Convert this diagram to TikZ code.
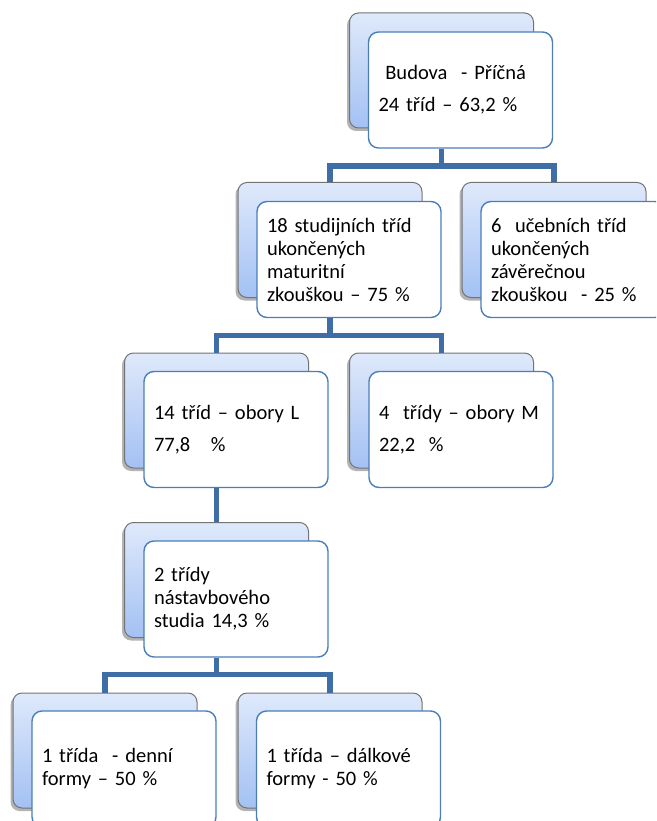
\documentclass[tikz,border=0pt]{standalone}
\usepackage{fontspec}
\setmainfont{Carlito}
\usetikzlibrary{shadows}
\definecolor{backtop}{HTML}{DFE9FB}
\definecolor{backbot}{HTML}{A3C1F3}
\definecolor{frameblue}{HTML}{4A7EBB}
\definecolor{linkblue}{HTML}{3F6DA6}
\begin{document}
\begin{tikzpicture}[x=1pt,y=-1pt]
	\tikzstyle{back} = [rounded corners=9pt,draw=black!55,line width=1pt,top color=backtop,bottom color=backbot,minimum width=184pt,minimum height=115pt,drop shadow={shadow xshift=-2.5pt,shadow yshift=-3pt,opacity=0.6}]
	\tikzstyle{front} = [rounded corners=10pt,draw=frameblue,line width=1.4pt,fill=white,minimum width=184pt,minimum height=116pt,text width=164pt,inner xsep=10pt,align=left,font=\fontsize{20.5}{23}\selectfont]
	\tikzstyle{edge} = [draw=linkblue,line width=5.5pt]
	\clip (0,0) rectangle (656,821);
	% back boxes
	\node[back] (m1) at (441.5,70.5) {};
	\node[back] (m2) at (330,240) {};
	\node[back] (m3) at (554,240) {};
	\node[back] (m4) at (216.5,410.5) {};
	\node[back] (m5) at (441.5,410.5) {};
	\node[back] (m6) at (216.5,580) {};
	\node[back] (m7) at (105,750.5) {};
	\node[back] (m8) at (330,750.5) {};
	% front boxes
	\node[front] (n1) at (460.5,90) {~Budova~~- Příčná\\[9pt]24 tříd – 63,2~\%};
	\node[front] (n2) at (349,259.5) {18 studijních tříd\\ukončených\\maturitní\\zkouškou – 75~\%};
	\node[front] (n3) at (573,259.5) {6~~učebních tříd\\ukončených\\závěrečnou\\zkouškou~~- 25~\%};
	\node[front] (n4) at (236,429.5) {14 tříd – obory L\\[9pt]77,8~~~\%};
	\node[front] (n5) at (461,429.5) {4~~třídy – obory M\\[9pt]22,2~~\%};
	\node[front] (n6) at (236,599) {2 třídy\\nástavbového\\studia 14,3~\%};
	\node[front] (n7) at (124,769) {1 třída~~- denní\\formy – 50~\%};
	\node[front] (n8) at (348.5,769) {1 třída – dálkové\\formy - 50~\%};
	% links
	\draw[edge] (m1.south |- n1.south) -- ++(0,17.5) -| (m2.north);
	\draw[edge] (m1.south |- n1.south) -- ++(0,17.5) -| (m3.north);
	\draw[edge] (m2.south |- n2.south) -- ++(0,17.5) -| (m4.north);
	\draw[edge] (m2.south |- n2.south) -- ++(0,17.5) -| (m5.north);
	\draw[edge] (m4.south |- n4.south) -- (m6.north);
	\draw[edge] (m6.south |- n6.south) -- ++(0,17) -| (m7.north);
	\draw[edge] (m6.south |- n6.south) -- ++(0,17) -| (m8.north);
\end{tikzpicture}
\end{document}
